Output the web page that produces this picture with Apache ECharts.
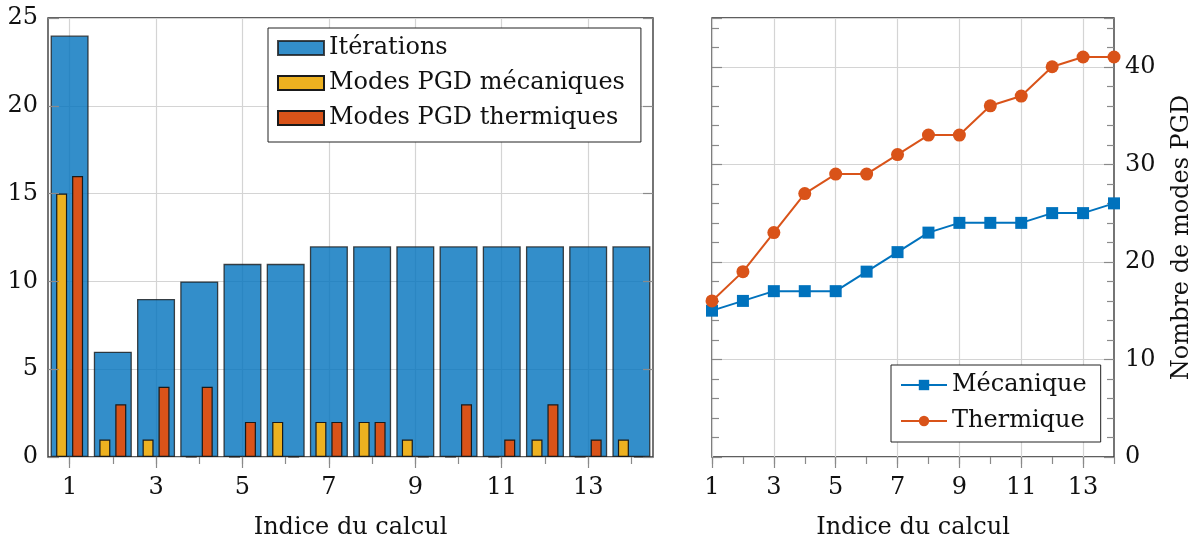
<!DOCTYPE html>
<html>
<head>
<meta charset="utf-8">
<script src="https://cdn.jsdelivr.net/npm/echarts@6/dist/echarts.min.js"></script>
<style>
  html, body { margin: 0; padding: 0; background: #ffffff; }
  #chart { width: 1197px; height: 542px; }
</style>
</head>
<body>
<div id="chart"></div>
<script>
// Indices des calculs (axe horizontal commun aux deux graphes)
const calculs = ['1', '2', '3', '4', '5', '6', '7', '8', '9', '10', '11', '12', '13', '14'];

// Graphe de gauche : itérations et nouveaux modes PGD par calcul
const iterations = [24, 6, 9, 10, 11, 11, 12, 12, 12, 12, 12, 12, 12, 12];
const modesMecaniques = [15, 1, 1, 0, 0, 2, 2, 2, 1, 0, 0, 1, 0, 1];
const modesThermiques = [16, 3, 4, 4, 2, 0, 2, 2, 0, 3, 1, 3, 1, 0];

// Graphe de droite : nombre cumulé de modes PGD
const cumulMecanique = [15, 16, 17, 17, 17, 19, 21, 23, 24, 24, 24, 25, 25, 26];
const cumulThermique = [16, 19, 23, 27, 29, 29, 31, 33, 33, 36, 37, 40, 41, 41];

// Graduations des axes verticaux
const ticksGauche = [0, 5, 10, 15, 20, 25];
const ticksDroite = [0, 10, 20, 30, 40];
const maxDroite = 45;

const FONT = 'DejaVu Serif';
const TXT = '#111111';
const GRID_COLOR = '#d4d4d4';
const TICK_COLOR = '#8a8a8a';

const stepG = ticksGauche[1] - ticksGauche[0];
const stepD = ticksDroite[1] - ticksDroite[0];

function catAxis(grid, opts) {
  return Object.assign({
    type: 'category',
    gridIndex: grid,
    data: calculs,
    position: 'bottom',
    axisLine: { show: false },
    axisLabel: { show: false },
    splitLine: { show: false },
    axisTick: { show: false }
  }, opts);
}

const xAxes = [
  // gauche : libellés, grille et graduations principales
  catAxis(0, {
    boundaryGap: true,
    axisLabel: { show: true, interval: 1, margin: 19, fontFamily: FONT, fontSize: 24, color: TXT },
    axisTick: { show: true, interval: 1, alignWithLabel: true, inside: false, length: 11, lineStyle: { color: TICK_COLOR, width: 1.2 } },
    splitLine: { show: true, interval: 1, alignWithLabel: true, lineStyle: { color: GRID_COLOR, width: 1.2 } },
    name: 'Indice du calcul', nameLocation: 'middle', nameGap: 59, nameMoveOverlap: false,
    nameTextStyle: { fontFamily: FONT, fontSize: 24, color: TXT }
  }),
  // gauche : graduations secondaires (barres des modes)
  catAxis(0, {
    boundaryGap: true,
    axisTick: { show: true, interval: 0, alignWithLabel: true, inside: false, length: 7, lineStyle: { color: TICK_COLOR, width: 1.2 } }
  }),
  // droite : libellés, grille et graduations principales
  catAxis(1, {
    boundaryGap: false,
    axisLabel: { show: true, interval: 1, margin: 19, fontFamily: FONT, fontSize: 24, color: TXT },
    axisTick: { show: true, interval: 1, inside: false, length: 11, lineStyle: { color: TICK_COLOR, width: 1.2 } },
    splitLine: { show: true, interval: 1, lineStyle: { color: GRID_COLOR, width: 1.2 } },
    name: 'Indice du calcul', nameLocation: 'middle', nameGap: 59, nameMoveOverlap: false,
    nameTextStyle: { fontFamily: FONT, fontSize: 24, color: TXT }
  }),
  // droite : graduations secondaires
  catAxis(1, {
    boundaryGap: false,
    axisTick: { show: true, interval: 0, inside: false, length: 7, lineStyle: { color: TICK_COLOR, width: 1.2 } }
  })
];

function valAxis(grid, pos, min, max, step, opts) {
  return Object.assign({
    type: 'value',
    gridIndex: grid,
    position: pos,
    min: min, max: max, interval: step,
    axisLine: { show: false },
    axisLabel: { show: false },
    splitLine: { show: false },
    axisTick: { show: false }
  }, opts);
}

const yAxes = [
  // 0 : gauche, libellés et grille horizontale
  valAxis(0, 'left', ticksGauche[0], ticksGauche[ticksGauche.length - 1], stepG, {
    axisLabel: { show: true, margin: 10, fontFamily: FONT, fontSize: 24, color: TXT },
    splitLine: { show: true, lineStyle: { color: GRID_COLOR, width: 1.2 } }
  }),
  // 1 : gauche, graduations intérieures au-dessus des barres
  valAxis(0, 'left', ticksGauche[0], ticksGauche[ticksGauche.length - 1], stepG, {
    z: 5,
    axisTick: { show: true, inside: true, length: 11, lineStyle: { color: TICK_COLOR, width: 1.2 } }
  }),
  // 2 : bord droit du graphe de gauche
  valAxis(0, 'right', ticksGauche[0], ticksGauche[ticksGauche.length - 1], stepG, {
    z: 5,
    axisTick: { show: true, inside: true, length: 10, lineStyle: { color: TICK_COLOR, width: 1.2 } }
  }),
  // 3 : droite, libellés, titre et grille
  valAxis(1, 'right', ticksDroite[0], maxDroite, stepD, {
    axisLabel: {
      show: true, margin: 11, fontFamily: FONT, fontSize: 24, color: TXT,
      formatter: v => (ticksDroite.indexOf(v) >= 0 ? String(v) : '')
    },
    splitLine: { show: true, lineStyle: { color: GRID_COLOR, width: 1.2 } },
    axisTick: { show: true, inside: true, length: 10, lineStyle: { color: TICK_COLOR, width: 1.2 } },
    minorTick: { show: true, splitNumber: 5, length: 7, lineStyle: { color: TICK_COLOR, width: 1.2 } },
    name: 'Nombre de modes PGD', nameLocation: 'middle', nameRotate: 90, nameGap: 56, nameMoveOverlap: false,
    nameTextStyle: { fontFamily: FONT, fontSize: 24, color: TXT }
  }),
  // 4 : bord gauche du graphe de droite
  valAxis(1, 'left', ticksDroite[0], maxDroite, stepD, {
    axisTick: { show: true, inside: true, length: 10, lineStyle: { color: TICK_COLOR, width: 1.2 } },
    minorTick: { show: true, splitNumber: 5, length: 7, lineStyle: { color: TICK_COLOR, width: 1.2 } }
  })
];

const legendText = { fontFamily: FONT, fontSize: 24, color: TXT };

const option = {
  animation: false,
  backgroundColor: '#ffffff',
  grid: [
    { left: 48, right: 544, top: 18, bottom: 85, show: true, borderColor: '#2b2b2b', borderWidth: 1.3,
      backgroundColor: 'transparent', containLabel: false, outerBoundsMode: 'none' },
    { left: 712, right: 83, top: 18, bottom: 85, show: true, borderColor: '#2b2b2b', borderWidth: 1.3,
      backgroundColor: 'transparent', containLabel: false, outerBoundsMode: 'none' }
  ],
  legend: [
    {
      data: ['Itérations', 'Modes PGD mécaniques', 'Modes PGD thermiques'],
      orient: 'vertical', left: 268, top: 28,
      icon: 'rect', itemWidth: 46, itemHeight: 14, itemGap: 11, itemTextGap: 7,
      padding: [8, 16, 12, 9],
      borderColor: '#222222', borderWidth: 1, borderRadius: 0, backgroundColor: '#ffffff',
      textStyle: legendText, selectedMode: false
    },
    {
      data: ['Mécanique', 'Thermique'],
      orient: 'vertical', left: 891, top: 365,
      itemWidth: 46, itemHeight: 13, itemGap: 12, itemTextGap: 7,
      padding: [8, 14, 9, 9],
      borderColor: '#222222', borderWidth: 1, borderRadius: 0, backgroundColor: '#ffffff',
      textStyle: legendText, selectedMode: false
    }
  ],
  xAxis: xAxes,
  yAxis: yAxes,
  series: [
    {
      name: 'Itérations', type: 'bar', xAxisIndex: 0, yAxisIndex: 0,
      data: iterations, barWidth: '88%', z: 2,
      itemStyle: { color: '#0072BD', opacity: 0.8, borderColor: '#1a1a1a', borderWidth: 1.3 }
    },
    {
      name: 'Modes PGD mécaniques', type: 'bar', xAxisIndex: 1, yAxisIndex: 0,
      data: modesMecaniques, barWidth: 11, barGap: '45%', z: 3,
      itemStyle: { color: '#EDB120', borderColor: '#1a1a1a', borderWidth: 1.2 }
    },
    {
      name: 'Modes PGD thermiques', type: 'bar', xAxisIndex: 1, yAxisIndex: 0,
      data: modesThermiques, barWidth: 11, barGap: '45%', z: 3,
      itemStyle: { color: '#D95319', borderColor: '#1a1a1a', borderWidth: 1.2 }
    },
    {
      name: 'Mécanique', type: 'line', xAxisIndex: 2, yAxisIndex: 3,
      data: cumulMecanique, symbol: 'rect', symbolSize: 12, z: 4,
      lineStyle: { color: '#0072BD', width: 2 },
      itemStyle: { color: '#0072BD' }
    },
    {
      name: 'Thermique', type: 'line', xAxisIndex: 2, yAxisIndex: 3,
      data: cumulThermique, symbol: 'circle', symbolSize: 13, z: 4,
      lineStyle: { color: '#D95319', width: 2 },
      itemStyle: { color: '#D95319' }
    }
  ]
};

const chart = echarts.init(document.getElementById('chart'), null, { renderer: 'canvas' });
chart.setOption(option);
</script>
</body>
</html>
